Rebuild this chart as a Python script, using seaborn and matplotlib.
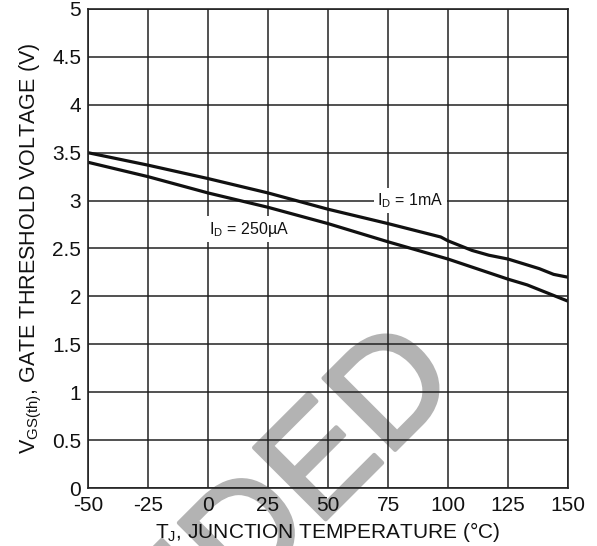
import numpy as np
import pandas as pd
import matplotlib
matplotlib.use("Agg")
import matplotlib.pyplot as plt
import matplotlib.patheffects as pe
import seaborn as sns

# ---- data ----
temp_1mA = [-50, -25, 0, 25, 50, 75, 97, 100, 110, 117, 125, 138, 144, 150]
vth_1mA = [3.50, 3.37, 3.23, 3.08, 2.91, 2.76, 2.62, 2.58, 2.48, 2.43, 2.39, 2.29, 2.23, 2.20]

temp_250uA = [-50, -25, 0, 25, 50, 75, 100, 125, 133, 138, 150]
vth_250uA = [3.40, 3.25, 3.08, 2.93, 2.76, 2.57, 2.39, 2.18, 2.12, 2.07, 1.95]

x_ticks = [-50, -25, 0, 25, 50, 75, 100, 125, 150]
x_ticklabels = ["-50", "-25", "0", "25", "50", "75", "100", "125", "150"]
y_ticks = [0, 0.5, 1, 1.5, 2, 2.5, 3, 3.5, 4, 4.5, 5]
y_ticklabels = ["0", "0.5", "1", "1.5", "2", "2.5", "3", "3.5", "4", "4.5", "5"]

series_names = ["1mA", "250µA"]

df = pd.concat([
    pd.DataFrame({"T": temp_1mA, "V": vth_1mA, "series": series_names[0]}),
    pd.DataFrame({"T": temp_250uA, "V": vth_250uA, "series": series_names[1]}),
], ignore_index=True)

sns.set_theme(style="white")
plt.rcParams["font.family"] = ["Liberation Sans", "DejaVu Sans"]

W, H = 597, 546
fig = plt.figure(figsize=(W / 100, H / 100), dpi=100)
fig.patch.set_facecolor("white")
ax = fig.add_axes([88 / W, 1 - 488 / H, 480 / W, 479 / H])
ax.patch.set_alpha(0)

# watermark (drawn beneath the axes)
wm_color = "#b3b3b3"
fig.text(462 / W, 1 - 383 / H, "NOT RECOMMENDED", fontsize=106, color=wm_color,
         rotation=45, rotation_mode="anchor", ha="right", va="baseline",
         zorder=-5,
         path_effects=[pe.withStroke(linewidth=3, foreground=wm_color)])

sns.lineplot(data=df, x="T", y="V", hue="series",
             palette={series_names[0]: "#111111", series_names[1]: "#111111"},
             linewidth=2.3, legend=False, ax=ax, estimator=None)

ax.set_xlim(-50, 150)
ax.set_ylim(0, 5)
ax.set_xticks(x_ticks)
ax.set_xticklabels(x_ticklabels)
ax.set_yticks(y_ticks)
ax.set_yticklabels(y_ticklabels)
ax.tick_params(axis="both", length=0, labelsize=15, colors="#111111")
ax.tick_params(axis="x", pad=6)
ax.tick_params(axis="y", pad=5)

ax.grid(True, color="#222222", linewidth=1.1)
ax.set_axisbelow(True)
for sp in ax.spines.values():
    sp.set_visible(True)
    sp.set_color("#222222")
    sp.set_linewidth(1.2)

ax.set_xlabel(r"T$_{\mathregular{J}}$, JUNCTION TEMPERATURE (°C)", fontsize=15,
              color="#111111", labelpad=3)
ax.set_ylabel(r"V$_{\mathregular{GS(th)}}$, GATE THRESHOLD VOLTAGE (V)", fontsize=15.5,
              color="#111111", labelpad=6)

bbox = dict(facecolor="white", edgecolor="none", pad=2.5)
ax.text(70.5, 3.0, r"I$_{\mathregular{D}}$ = 1mA", fontsize=11.5, ha="left",
        va="center", color="#111111", bbox=bbox, zorder=3)
ax.text(0.6, 2.70, r"I$_{\mathregular{D}}$ = 250µA", fontsize=11.5, ha="left",
        va="center", color="#111111", bbox=bbox, zorder=3)

fig.savefig("out.png", dpi=100)
